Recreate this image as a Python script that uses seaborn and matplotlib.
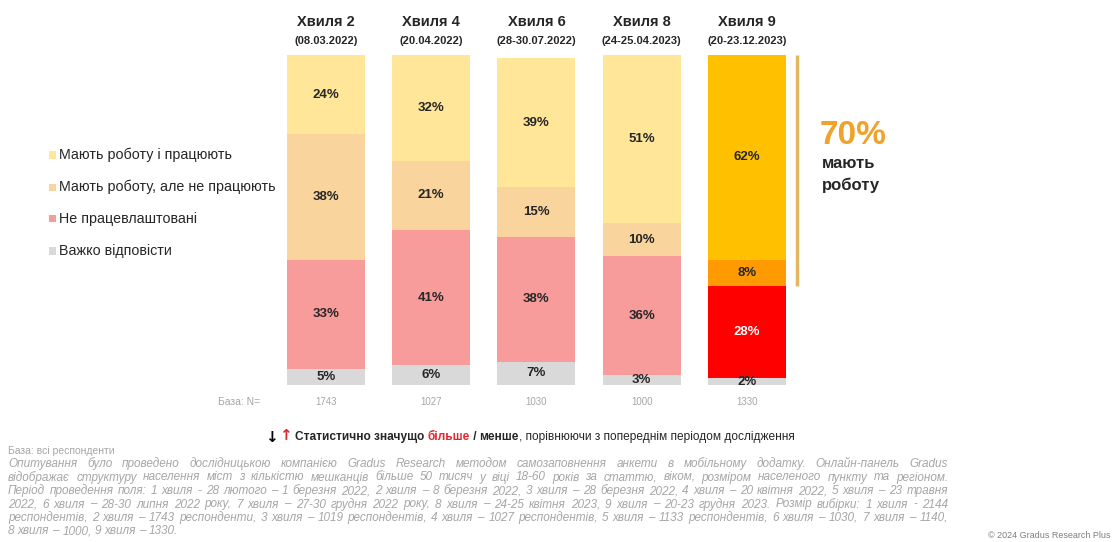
import matplotlib
matplotlib.use("Agg")
import matplotlib.pyplot as plt
import matplotlib.transforms as mtransforms
from matplotlib.patches import Rectangle
import numpy as np
import pandas as pd
import seaborn as sns

# ---- data -------------------------------------------------------------
waves = ["Хвиля 2", "Хвиля 4", "Хвиля 6", "Хвиля 8", "Хвиля 9"]
dates = ["(08.03.2022)", "(20.04.2022)", "(28-30.07.2022)", "(24-25.04.2023)", "(20-23.12.2023)"]
bases = [1743, 1027, 1030, 1000, 1330]
categories = ["Мають роботу і працюють", "Мають роботу, але не працюють",
              "Не працевлаштовані", "Важко відповісти"]
working = [24, 32, 39, 51, 62]
not_working = [38, 21, 15, 10, 8]
unemployed = [33, 41, 38, 36, 28]
hard_to_say = [5, 6, 7, 3, 2]
have_job_total = 70

footer_lines = [
    "Опитування було проведено дослідницькою компанією Gradus Research методом самозаповнення анкети в мобільному додатку. Онлайн-панель Gradus",
    "відображає структуру населення міст з кількістю мешканців більше 50 тисяч у віці 18-60 років за статтю, віком, розміром населеного пункту та регіоном.",
    "Період проведення поля: 1 хвиля - 28 лютого – 1 березня 2022, 2 хвиля – 8 березня 2022, 3 хвиля – 28 березня 2022, 4 хвиля – 20 квітня 2022, 5 хвиля – 23 травня",
    "2022, 6 хвиля – 28-30 липня 2022 року, 7 хвиля – 27-30 грудня 2022 року, 8 хвиля – 24-25 квітня 2023, 9 хвиля – 20-23 грудня 2023. Розмір вибірки: 1 хвиля - 2144",
    "респондентів, 2 хвиля – 1743 респонденти, 3 хвиля – 1019 респондентів, 4 хвиля – 1027 респондентів, 5 хвиля – 1133 респондентів, 6 хвиля – 1030, 7 хвиля – 1140,",
    "8 хвиля – 1000, 9 хвиля – 1330.",
]

# ---- styling ------------------------------------------------------------
base_colors = ["#FFE699", "#F9D49C", "#F89B9B", "#D9D9D9"]
last_colors = ["#FFC000", "#FF9A00", "#FF0000", "#D9D9D9"]
dark = "#262626"
grey = "#A6A6A6"

sns.set_theme(style="white")
plt.rcParams["font.family"] = ["Liberation Sans", "DejaVu Sans"]

W, H = 1116, 542
fig = plt.figure(figsize=(W / 100, H / 100), dpi=100)
fig.patch.set_facecolor("white")
renderer = fig.canvas.get_renderer()


def fy(y):
    return 1 - y / H


ax = fig.add_axes([273.4 / W, (H - 385) / H, 526 / W, 330 / H])

stack = np.array([working, not_working, unemployed, hard_to_say], dtype=float)
tops = np.cumsum(stack[::-1], axis=0)[::-1]  # tops[0] = full bar height

for i in range(len(categories)):
    layer = pd.DataFrame({"wave": waves, "top": tops[i]})
    pal = [base_colors[i]] * (len(waves) - 1) + [last_colors[i]]
    sns.barplot(data=layer, x="wave", y="top", hue="wave", palette=pal,
                width=0.74, saturation=1, legend=False, ax=ax, linewidth=0)

ax.set_xlim(-0.5, len(waves) - 0.5)
ax.set_ylim(0, 100)
ax.axis("off")

# segment labels
for i in range(len(categories)):
    for j in range(len(waves)):
        v = stack[i, j]
        yc = tops[i, j] - v / 2
        col = "white" if (j == len(waves) - 1 and i == 2) else dark
        ax.text(j, yc, f"{int(v)}%", ha="center", va="center",
                fontsize=9.5, fontweight="bold", color=col)

# headers and bases
tr = mtransforms.blended_transform_factory(ax.transData, fig.transFigure)
for j in range(len(waves)):
    ax.text(j, fy(22), waves[j], transform=tr, ha="center", va="center",
            fontsize=10.5, fontweight="bold", color=dark)
    ax.text(j, fy(41), dates[j], transform=tr, ha="center", va="center",
            fontsize=8, fontweight="bold", color=dark)
    ax.text(j, fy(402), str(bases[j]), transform=tr, ha="center", va="center",
            fontsize=7, color=grey)
fig.text(218 / W, fy(402), "База: N=", ha="left", va="center", fontsize=7.5, color=grey)

# bracket for the "have a job" share of the last wave
xb = (797 - 273.4) / 105.2 - 0.5
top_last = tops[0, -1]
ax.plot([xb, xb], [top_last, top_last - have_job_total], color="#E3B862",
        lw=2.5, clip_on=False, solid_capstyle="butt")
fig.text(820 / W, fy(135), f"{have_job_total}%", ha="left", va="center",
         fontsize=24, fontweight="bold", color="#F0A22A")
fig.text(822 / W, fy(163), "мають", ha="left", va="center",
         fontsize=12, fontweight="bold", color=dark)
fig.text(822 / W, fy(185), "роботу", ha="left", va="center",
         fontsize=12, fontweight="bold", color=dark)

# legend
for k, (lab, y) in enumerate(zip(categories, [155, 187, 219, 251])):
    fig.add_artist(Rectangle((49 / W, fy(y + 3.5)), 7 / W, 7 / H,
                             transform=fig.transFigure, color=base_colors[k], lw=0))
    fig.text(59 / W, fy(y), lab, ha="left", va="center", fontsize=10.3, color=dark)


def run(pieces, x0, y, fontsize):
    x = x0
    for txt, col, wt in pieces:
        t = fig.text(x / W, fy(y), txt, ha="left", va="center",
                     fontsize=fontsize, color=col, fontweight=wt)
        x += t.get_window_extent(renderer).width


# significance note
fig.text(271 / W, fy(438), "↓", ha="center", va="center", fontsize=11,
         fontweight="bold", color="black", family="DejaVu Sans")
fig.text(285 / W, fy(436), "↑", ha="center", va="center", fontsize=11,
         fontweight="bold", color="#E0282E", family="DejaVu Sans")
run([("Статистично значущо ", dark, "bold"),
     ("більше", "#E0282E", "bold"),
     (" / ", dark, "bold"),
     ("менше", dark, "bold"),
     (", порівнюючи з попереднім періодом дослідження", dark, "normal")],
    295, 437, 8.6)

# footnote
fig.text(8 / W, fy(451), "База: всі респонденти", ha="left", va="center",
         fontsize=7.5, color=grey)


def justify(line, y, x0, x1, last=False, fontsize=8.5):
    words = line.split(" ")
    texts = [fig.text(0, fy(y), w, ha="left", va="center", fontsize=fontsize,
                      color=grey, style="italic") for w in words]
    widths = [t.get_window_extent(renderer).width for t in texts]
    space = fontsize * 0.28 * 100 / 72
    if last or len(words) == 1:
        gap = space
    else:
        gap = max((x1 - x0 - sum(widths)) / (len(words) - 1), space * 0.6)
    x = x0
    for t, w in zip(texts, widths):
        t.set_x(x / W)
        x += w + gap


for n, line in enumerate(footer_lines):
    justify(line, 464 + n * 13.5, 8, 948, last=(n == len(footer_lines) - 1))

fig.text(1110 / W, fy(536), "© 2024 Gradus Research Plus", ha="right", va="center",
         fontsize=6.5, color="#7F7F7F")

fig.savefig("out.png", dpi=100, facecolor="white")
